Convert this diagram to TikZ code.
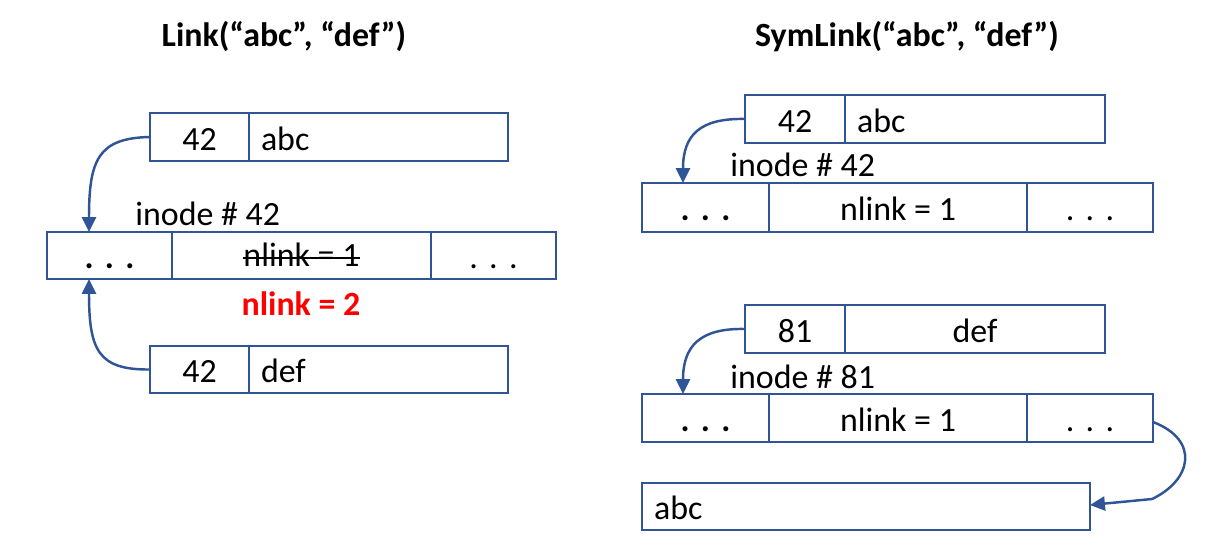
\documentclass[tikz,border=0pt]{standalone}
\usepackage{fontspec}
\setmainfont{Carlito}
\usetikzlibrary{arrows.meta,calc}
\definecolor{lineblue}{HTML}{2F5597}
\definecolor{hotred}{HTML}{FF0000}
\newcommand\cellnode[7][]{%
  \node[cell, minimum width={(#4-#3)*0.02cm}, minimum height={(#6-#5)*0.02cm}, #1]
    (#2) at ({(#3+#4)/2},{(#5+#6)/2}) {#7};}
\begin{document}
\begin{tikzpicture}[x=0.02cm,y=-0.02cm,
  cell/.style={draw=lineblue, line width=1.4pt, rectangle, inner sep=0pt, outer sep=0pt,
    font=\fontsize{19.3}{22}\selectfont, text height=16pt, text depth=1pt},
  leftcell/.style={align=left, text width={(#1-24)*0.02cm}, inner xsep=0.24cm},
  lbl/.style={inner sep=0pt, font=\fontsize{19.3}{22}\selectfont},
  ttl/.style={inner sep=0pt, font=\fontsize{19.3}{22}\selectfont\bfseries},
  conn/.style={draw=lineblue, line width=1.4pt, -{Triangle[length=8.5pt,width=8pt]}}]
\useasboundingbox (0,0) rectangle (1222,550);

% ---------------- Left: Link
\node[ttl, anchor=base] (t1) at (284,47) {Link(“abc”, “def”)};

\cellnode{la1}{150}{249}{113}{161}{42}
\cellnode[leftcell=259]{la2}{249}{508}{113}{161}{abc}

\node[lbl, anchor=base west] (li) at (135,226) {inode \# 42};
\cellnode{lr1}{47}{172}{232}{279}{\textbf{.\,\,.\,\,.}}
\cellnode{lr2}{172}{431}{232}{279}{}
\cellnode{lr3}{431}{556}{232}{279}{.\,\,.\,\,.}
\node[lbl, anchor=base] (ln) at (301.5,267) {nlink = 1};
\draw[line width=1.3pt] ([yshift=5.3pt]ln.base west) -- ([yshift=5.3pt]ln.base east);
\node[lbl, anchor=base, text=hotred, font=\fontsize{19.3}{22}\selectfont\bfseries] (l2) at (301,315) {nlink = 2};

\cellnode{ld1}{150}{249}{346}{393}{42}
\cellnode[leftcell=259]{ld2}{249}{508}{346}{393}{def}

\coordinate (lt1) at (89,232);
\coordinate (lt2) at (89,279);
\draw[conn] (la1.west) .. controls (98,138) and (89,160) .. (lt1);
\draw[conn] (ld1.west) .. controls (98,370) and (89,350) .. (lt2);

% ---------------- Right: SymLink
\node[ttl, anchor=base] (t2) at (907,47) {SymLink(“abc”, “def”)};

\cellnode{ra1}{745}{845}{95}{143}{42}
\cellnode[leftcell=260]{ra2}{845}{1105}{95}{143}{abc}

\node[lbl, anchor=base west] (ri1) at (730,177) {inode \# 42};
\cellnode{rr1}{642}{769}{183}{232}{\textbf{.\,\,.\,\,.}}
\cellnode{rr2}{769}{1027}{183}{232}{nlink = 1}
\cellnode{rr3}{1027}{1153}{183}{232}{.\,\,.\,\,.}

\cellnode{rd1}{745}{845}{305}{353}{81}
\cellnode{rd2}{845}{1105}{305}{353}{def}

\node[lbl, anchor=base west] (ri2) at (730,388) {inode \# 81};
\cellnode{rs1}{642}{769}{394}{442}{\textbf{.\,\,.\,\,.}}
\cellnode{rs2}{769}{1027}{394}{442}{nlink = 1}
\cellnode{rs3}{1027}{1153}{394}{442}{.\,\,.\,\,.}

\cellnode[leftcell=448]{rb}{642}{1090}{483}{530}{abc}

\coordinate (rt1) at (683,183);
\coordinate (rt2) at (683,394);
\coordinate (rs3out) at (1153,422);
\coordinate (rbin) at (1090,505);
\draw[conn] (ra1.west) .. controls (700,118) and (683,135) .. (rt1);
\draw[conn] (rd1.west) .. controls (700,328) and (683,346) .. (rt2);
\draw[conn] (rs3out) .. controls (1200,440) and (1192,480) .. (1152,499) -- (rbin);
\end{tikzpicture}
\end{document}
